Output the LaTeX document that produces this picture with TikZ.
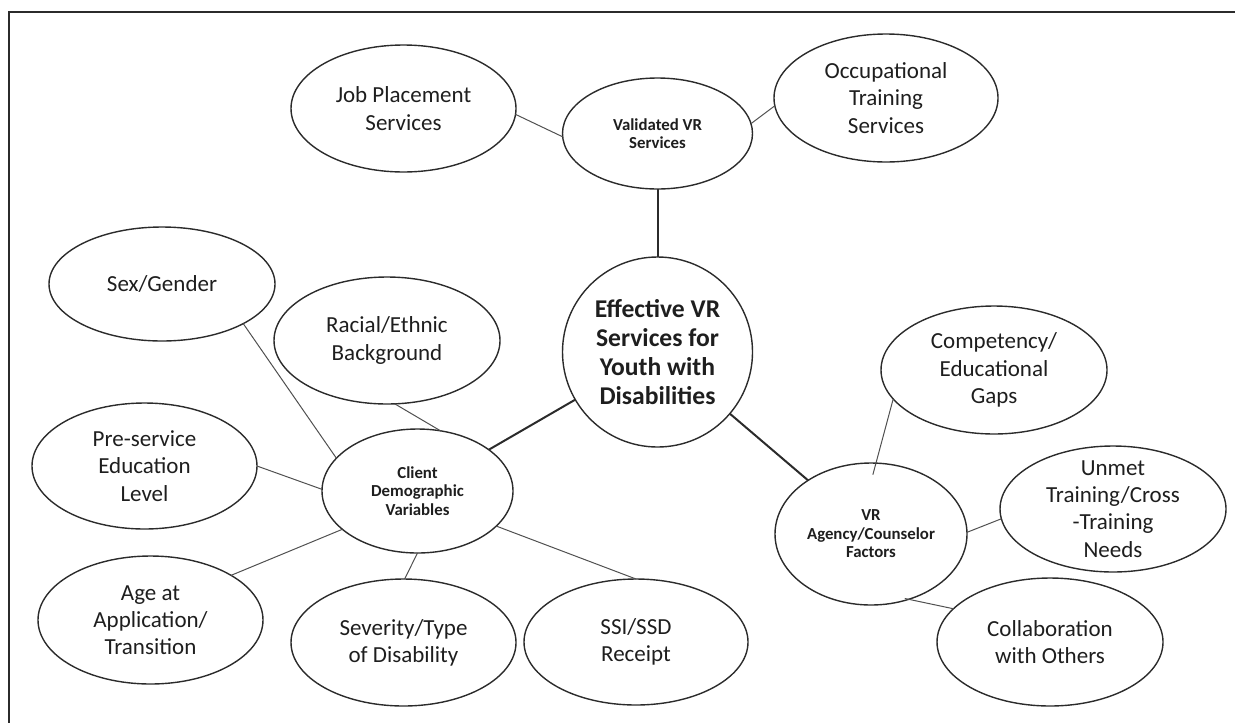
\documentclass[tikz,border=0pt]{standalone}
\usepackage{fontspec}
\setmainfont{Carlito}
\usetikzlibrary{shapes.geometric}
\definecolor{ink}{HTML}{1E1E1E}
\definecolor{rim}{HTML}{2B2B2B}
\definecolor{wire}{HTML}{505050}
\begin{document}
\begin{tikzpicture}[x=0.5pt,y=-0.5pt,
  bubble/.style={ellipse, draw=rim, line width=0.7pt, inner sep=0pt, outer sep=0pt},
  leaftext/.style={font=\fontsize{11.5}{13.6}\selectfont, align=center, text=ink, inner sep=0pt},
  hubtext/.style={font=\fontsize{8.4}{9.2}\selectfont\bfseries, align=center, text=ink, inner sep=0pt},
  coretext/.style={font=\fontsize{12.8}{14.5}\selectfont\bfseries, align=center, text=ink, inner sep=0pt},
  thinline/.style={draw=wire, line width=0.5pt},
  thickline/.style={draw=rim, line width=1pt},
  frameline/.style={draw=rim, line width=1pt}]

\useasboundingbox (0,0) rectangle (1235,723);

% frame along the top and left edges
\coordinate (fr) at (1235,12);
\coordinate (fc) at (9,12);
\coordinate (fb) at (9,723);
\draw[frameline] (fr) -- (fc) -- (fb);

% central topic
\node[bubble, minimum width=95pt, minimum height=95pt,
  label={[coretext]center:{Effective VR\\Services for\\Youth with\\Disabilities}}] (ctr) at (657.5,352) {};

% top cluster
\node[bubble, minimum width=95pt, minimum height=55.5pt,
  label={[hubtext]center:{Validated VR\\Services}}] (val) at (657.5,133.5) {};
\node[bubble, minimum width=112.5pt, minimum height=63.5pt,
  label={[leaftext]center:{Job Placement\\Services}}] (job) at (403.5,108.5) {};
\node[bubble, minimum width=112pt, minimum height=64pt,
  label={[leaftext]center:{Occupational\\Training\\Services}}] (occ) at (886,98) {};

% left cluster
\node[bubble, minimum width=95.5pt, minimum height=62pt,
  label={[hubtext]center:{Client\\Demographic\\Variables}}] (cli) at (417.5,491) {};
\node[bubble, minimum width=113pt, minimum height=57pt,
  label={[leaftext]center:{Sex/Gender}}] (sex) at (162,284) {};
\node[bubble, minimum width=113pt, minimum height=63.5pt,
  label={[leaftext]center:{Racial/Ethnic\\Background}}] (race) at (387,340.5) {};
\node[bubble, minimum width=112.5pt, minimum height=63pt,
  label={[leaftext]center:{Pre-service\\Education\\Level}}] (pre) at (144.5,466) {};
\node[bubble, minimum width=112.5pt, minimum height=64pt,
  label={[leaftext]center:{Age at\\Application/\\Transition}}] (age) at (150.5,620) {};
\node[bubble, minimum width=112.5pt, minimum height=63.5pt,
  label={[leaftext]center:{Severity/Type\\of Disability}}] (sev) at (403.5,642.5) {};
\node[bubble, minimum width=112pt, minimum height=63pt,
  label={[leaftext]center:{SSI/SSD\\Receipt}}] (ssi) at (636,642) {};

% right cluster
\node[bubble, minimum width=96pt, minimum height=71pt,
  label={[hubtext]center:{VR\\Agency/Counselor\\Factors}}] (vr) at (871,534) {};
\node[bubble, minimum width=113pt, minimum height=64pt,
  label={[leaftext]center:{Competency/\\Educational\\Gaps}}] (comp) at (994,370) {};
\node[bubble, minimum width=113pt, minimum height=63pt,
  label={[leaftext]center:{Unmet\\Training/Cross\\-Training\\Needs}}] (unmet) at (1113,509) {};
\node[bubble, minimum width=113pt, minimum height=64pt,
  label={[leaftext]center:{Collaboration\\with Others}}] (collab) at (1050,642) {};

% connectors of the hubs to the central topic
\draw[thickline] (val.south) -- (ctr.north);
\draw[thickline] (ctr) -- (cli);
\draw[thickline] (ctr) -- (vr);

% top cluster connectors
\draw[thinline] (job.-3) -- (val.182);
\draw[thinline] (val.6) -- (occ.184);

% left cluster connectors
\draw[thinline] (sex.-26) -- (cli.158);
\draw[thinline] (race.-83) -- (cli.69);
\draw[thinline] (pre.0) -- (cli.179);
\draw[thinline] (cli.207) -- (age.29);
\draw[thinline] (cli.-90) -- (sev.89);
\draw[thinline] (cli.-24) -- (ssi.north);

% right cluster connectors
\draw[thinline, shorten >=-6pt] (comp.196) -- (vr.86);
\draw[thinline] (unmet.185) -- (vr.1);
\draw[thinline, shorten <=-2pt] (vr.-60) -- (collab.161);

\end{tikzpicture}
\end{document}
